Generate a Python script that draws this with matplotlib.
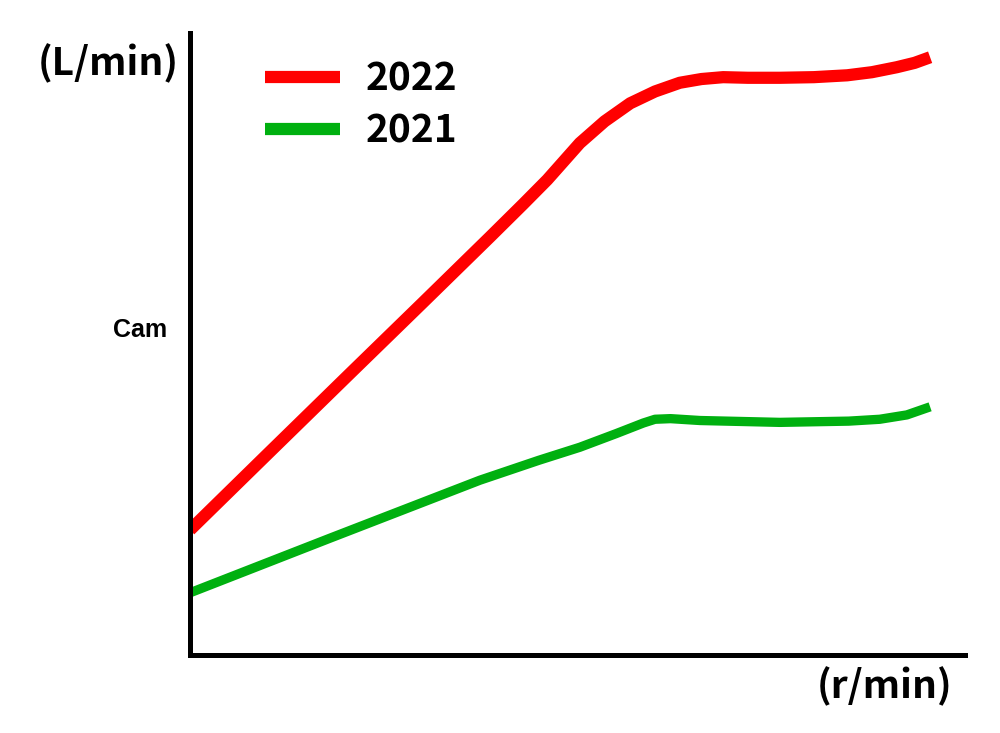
import matplotlib
matplotlib.use("Agg")
import matplotlib.pyplot as plt

plt.rcParams['font.family'] = ['Noto Sans CJK JP', 'DejaVu Sans']

# (x: 0-100 along the axis, y: 0-100 up the axis)
x_2022 = [0, 10.0, 20.6, 30.0, 38.7, 43.0, 46.1, 50.3, 53.5, 56.8, 60.0, 63.2, 66.0, 68.8, 72.0, 76.1, 80.5, 84.8, 88.0, 91.2, 93.5, 95.5]
y_2022 = [20.1, 32.3, 45.2, 56.6, 67.2, 72.5, 76.4, 82.3, 85.8, 88.7, 90.6, 92.0, 92.6, 92.9, 92.8, 92.8, 92.9, 93.2, 93.7, 94.5, 95.2, 96.1]

x_2021 = [0, 18.1, 37.4, 45.0, 50.3, 55.0, 58.5, 60.0, 62.0, 65.8, 76.1, 85.0, 89.0, 92.5, 95.5]
y_2021 = [10.0, 18.8, 28.1, 31.3, 33.4, 35.6, 37.3, 37.9, 38.0, 37.7, 37.4, 37.6, 37.9, 38.6, 39.9]

fig = plt.figure(figsize=(10, 7.33), dpi=100)
ax = fig.add_axes([0.19, 1 - 655 / 733, 0.775, (655 - 33) / 733])

ax.plot(x_2022, y_2022, color='#ff0000', lw=8.8, solid_capstyle='butt', solid_joinstyle='round', label='2022')
ax.plot(x_2021, y_2021, color='#00b010', lw=6.7, solid_capstyle='butt', solid_joinstyle='round', label='2021')

ax.set_xlim(0, 100)
ax.set_ylim(0, 100)
ax.set_xticks([])
ax.set_yticks([])
ax.spines['top'].set_visible(False)
ax.spines['right'].set_visible(False)
ax.spines['left'].set_linewidth(3.6)
ax.spines['bottom'].set_linewidth(3.6)

leg = ax.legend(loc='upper left', bbox_to_anchor=(0.052, 1.013), frameon=False,
                handlelength=1.93, handletextpad=0.64, labelspacing=0.33,
                prop={'size': 28, 'weight': 'bold'})
for h in leg.get_lines():
    h.set_linewidth(8.8)

fig.text(0.108, 1 - 63 / 733, '(L/min)', ha='center', va='center', fontsize=28, fontweight='bold')
fig.text(0.885, 1 - 686 / 733, '(r/min)', ha='center', va='center', fontsize=28, fontweight='bold')
fig.text(0.140, 1 - 330 / 733, 'Cam', ha='center', va='center', fontsize=18, fontweight='bold',
         family='Liberation Sans')

fig.savefig('out.png', dpi=100)
